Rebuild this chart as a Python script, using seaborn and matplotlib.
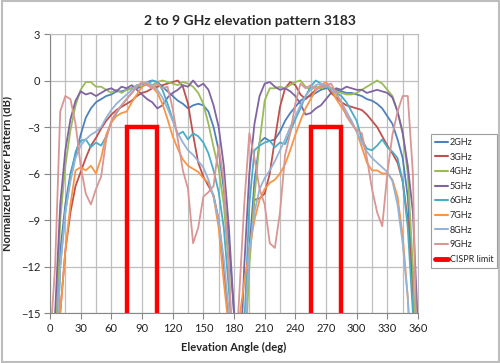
import matplotlib
matplotlib.use("Agg")
import matplotlib.pyplot as plt
from matplotlib.patches import Rectangle
from matplotlib.lines import Line2D
import seaborn as sns
import pandas as pd
import numpy as np

# elevation angles, 5 deg steps
angles = list(range(0, 361, 5))

ghz_2 = [-30, -22, -11, -8, -6, -4.8, -3.5, -2.4, -1.8, -1.4, -1.2, -1.0, -0.9, -0.7, -0.7, -0.6, -0.5, -0.5, -0.4,
         -0.1, 0.0, -0.1, -0.4, -0.7, -1.0, -1.3, -1.5, -1.8, -1.6, -1.5, -1.6, -2.0, -3.0, -4.5, -7.0, -10.5, -15,
         -19, -16, -11, -6.5, -4.0, -3.7, -3.9, -3.8, -3.3, -2.6, -2.1, -1.7, -1.3, -1.1, -1.0, -0.8, -0.6, -0.5,
         -0.5, -0.6, -0.7, -0.8, -0.8, -0.9, -1.0, -1.2, -1.3, -1.5, -1.8, -2.3, -2.8, -3.8, -5.0, -7.5, -13, -22]
ghz_3 = [-35, -25, -15, -11, -8.5, -6.8, -5.9, -5.0, -4.2, -3.7, -3.1, -2.6, -2.2, -1.9, -1.7, -1.5, -1.3, -1.0, -0.8,
         -0.7, -0.5, -0.4, -0.3, -0.2, -0.1, 0.0, -0.4, -1.5, -3.5, -5.3, -6.2, -6.8, -7.4, -9.0, -12, -15.5, -20,
         -22, -18, -11, -7.7, -7.6, -7.3, -6.0, -3.8, -1.7, -0.5, -0.1, -0.3, -0.9, -1.2, -0.9, -0.6, -0.4, -0.3,
         -0.8, -1.1, -1.4, -1.6, -1.7, -1.8, -1.9, -2.2, -2.6, -3.0, -3.6, -4.2, -4.7, -5.3, -6.5, -9.0, -13.5, -20]
ghz_4 = [-32, -18, -9, -5.5, -3.2, -1.6, -0.6, -0.1, -0.1, -0.4, -0.4, -0.6, -0.8, -0.6, -0.8, -0.6, -0.5, -0.3, -0.4,
         -0.2, -0.3, -0.1, 0.0, -0.1, -0.2, -0.3, -0.1, -0.2, -0.4, -0.8, -1.5, -2.8, -4.3, -5.7, -8.0, -12, -20,
         -24, -19, -12, -7.5, -4.0, -1.3, -0.5, -0.5, -0.4, -0.5, -0.3, -0.1, 0.0, -0.4, -0.6, -0.4, -0.5, -0.4,
         -0.6, -0.7, -0.8, -0.9, -0.9, -0.8, -0.6, -0.4, -0.2, 0.0, -0.2, -0.6, -1.0, -2.0, -3.3, -6.0, -12, -22]
ghz_5 = [-30, -15, -8, -4.5, -2.5, -1.3, -0.7, -0.9, -0.8, -1.0, -0.8, -0.6, -0.5, -0.7, -0.4, -0.5, -0.3, -0.6, -0.9,
         -1.2, -1.4, -1.8, -1.6, -1.1, -0.8, -0.6, -0.3, -0.4, 0.0, -0.4, -0.2, -0.6, -1.6, -3.0, -5.5, -9.5, -15,
         -20, -12, -6.0, -2.8, -1.0, -0.2, -0.1, -0.4, -0.6, -0.5, -0.7, -1.0, -1.5, -2.2, -2.1, -1.8, -1.6, -1.2,
         -0.8, -0.5, -0.6, -0.4, -0.5, -0.6, -0.6, -0.8, -0.7, -0.6, -0.7, -0.8, -1.1, -2.0, -3.4, -5.5, -8.5, -16]
ghz_6 = [-32, -20, -12, -8.5, -6.2, -4.6, -3.9, -3.8, -4.3, -4.0, -4.2, -3.6, -2.7, -2.1, -1.6, -1.2, -0.8, -0.4, -0.2,
         -0.3, 0.0, -0.1, -0.6, -1.5, -2.5, -3.5, -3.3, -3.8, -3.4, -3.6, -4.0, -4.7, -5.8, -7.2, -9.5, -13.5, -18,
         -22, -16, -8, -4.5, -4.2, -4.0, -3.9, -4.3, -4.0, -4.1, -3.3, -2.5, -1.8, -1.0, -0.4, 0.0, -0.2, -0.3,
         -0.6, -0.8, -1.0, -1.4, -2.0, -2.6, -3.8, -4.4, -4.5, -4.2, -3.8, -4.3, -4.6, -5.0, -6.5, -9.5, -15, -22]
ghz_7 = [-35, -22, -15, -11, -8, -5.8, -5.6, -5.8, -5.5, -6.0, -5.0, -3.5, -2.7, -2.3, -2.1, -2.0, -1.4, -0.9, -0.4,
         -0.2, -0.4, -0.8, -1.5, -2.5, -3.6, -4.4, -5.1, -5.5, -5.7, -5.9, -6.3, -6.6, -7.5, -9.5, -13, -16, -20,
         -15.5, -13, -11, -9, -7.7, -7.0, -6.6, -6.4, -6.0, -5.4, -4.5, -3.5, -2.6, -1.8, -1.2, -0.6, -0.3, -0.1,
         -0.5, -1.2, -1.7, -2.2, -2.7, -3.3, -4.3, -5.3, -5.8, -5.8, -6.0, -6.0, -6.4, -7.5, -10, -14, -20, -28]
ghz_8 = [-30, -20, -12, -8.5, -6.5, -5.0, -4.2, -3.8, -3.5, -3.3, -3.0, -2.4, -1.9, -1.5, -1.2, -0.9, -0.6, -0.3, -0.2,
         -0.1, -0.3, -0.6, -1.1, -1.8, -2.6, -3.4, -4.0, -4.5, -4.8, -5.2, -5.6, -6.4, -7.5, -9.0, -11.5, -15, -20,
         -22, -17, -11, -8.5, -7.0, -6.3, -5.8, -5.2, -4.5, -3.8, -3.0, -2.3, -1.6, -1.0, -0.6, -0.3, -0.2, -0.3,
         -0.5, -0.9, -1.4, -2.0, -2.6, -3.3, -4.0, -4.6, -5.0, -5.3, -5.6, -5.9, -6.5, -8.0, -10.5, -14, -20, -26]
ghz_9 = [-17, -12, -2.0, -1.0, -1.2, -2.8, -5.5, -7.3, -8.0, -7.0, -6.2, -3.8, -2.6, -2.0, -1.6, -1.2, -0.8, -0.4, -0.1,
         -0.3, -0.5, -0.2, -0.5, -0.4, -1.8, -3.8, -5.8, -7.0, -10.5, -9.5, -7.5, -7.2, -6.8, -4.2, -6.5, -12, -20,
         -14, -8, -3.4, -5.0, -7.0, -8.0, -10.5, -10.8, -8.5, -4.8, -3.4, -1.5, -0.2, -0.5, -0.3, -0.6, -0.4, -0.3,
         -0.2, -0.8, -1.4, -2.3, -2.8, -3.2, -3.4, -5.0, -7.0, -8.5, -9.4, -6.0, -3.5, -2.0, -1.0, -1.0, -6.0, -22]

series_names = ["2GHz", "3GHz", "4GHz", "5GHz", "6GHz", "7GHz", "8GHz", "9GHz"]
series_values = [ghz_2, ghz_3, ghz_4, ghz_5, ghz_6, ghz_7, ghz_8, ghz_9]
series_colors = ["#4F81BD", "#C0504D", "#9BBB59", "#8064A2", "#4BACC6", "#F79646", "#95B3D7", "#D99694"]

# CISPR limit boxes
cispr_angle = [75, 75, 105, 105, np.nan, 255, 255, 285, 285]
cispr_level = [-20, -3, -3, -20, np.nan, -20, -3, -3, -20]

x_ticks = list(range(0, 361, 30))
y_ticks = list(range(-15, 4, 3))

df = pd.DataFrame({
    "angle": angles * len(series_names),
    "dB": sum(series_values, []),
    "freq": [n for n in series_names for _ in angles],
})

sns.set_style("white")
plt.rcParams["font.family"] = ["Lato", "DejaVu Sans"]

fig = plt.figure(figsize = (5, 3.63), dpi = 100)
ax = fig.add_axes([0.1, 0.1377, 0.736, 0.7686])

sns.lineplot(data = df, x = "angle", y = "dB", hue = "freq", hue_order = series_names,
             palette = series_colors, linewidth = 1.3, sort = False, estimator = None,
             legend = False, ax = ax)
ax.plot(cispr_angle, cispr_level, color = "#FF0000", linewidth = 3.2, solid_joinstyle = "miter")

ax.set_xlim(0, 360)
ax.set_ylim(-15, 3)
ax.set_xticks(x_ticks)
ax.set_yticks(y_ticks)
ax.set_xticks(range(0, 361, 15), minor = True)
ax.grid(True, which = "major", axis = "y", color = "#BEBEBE", linewidth = 0.9)
ax.grid(True, which = "both", axis = "x", color = "#BEBEBE", linewidth = 0.9)
ax.set_axisbelow(True)
for side in ["top", "right"]:
    ax.spines[side].set_color("#BEBEBE")
for side in ["left", "bottom"]:
    ax.spines[side].set_color("#868686")
ax.tick_params(axis = "both", which = "major", direction = "out", length = 4, color = "#868686",
               labelsize = 8, labelcolor = "#222222", pad = 3)
ax.tick_params(axis = "x", which = "minor", length = 0)
ax.tick_params(left = True, bottom = True)

ax.set_xlabel("Elevation Angle (deg)", fontsize = 8, fontweight = "bold", labelpad = 6)
ax.set_ylabel("Normalized Power Pattern (dB)", fontsize = 8, fontweight = "bold")
ax.yaxis.set_label_coords(-0.103, 0.5)
fig.text(0.5, 0.943, "2 to 9 GHz elevation pattern 3183", ha = "center", va = "center",
         fontsize = 10, fontweight = "bold")

handles = [Line2D([], [], color = c, linewidth = 1.5) for c in series_colors]
handles.append(Line2D([], [], color = "#FF0000", linewidth = 3.5))
leg = fig.legend(handles, series_names + ["CISPR limit"], loc = "upper left",
                 bbox_to_anchor = (0.858, 0.636), fontsize = 6.5, frameon = True, fancybox = False,
                 handlelength = 1.5, handletextpad = 0.15, labelspacing = 0.62, borderpad = 0.45,
                 borderaxespad = 0.2)
leg.get_frame().set_edgecolor("#868686")
leg.get_frame().set_linewidth(0.8)

fig.patches.append(Rectangle((0.003, 0.004), 0.994, 0.992, transform = fig.transFigure,
                             fill = False, edgecolor = "#BDBDBD", linewidth = 1.5))

fig.savefig("out.png", dpi = 100)
